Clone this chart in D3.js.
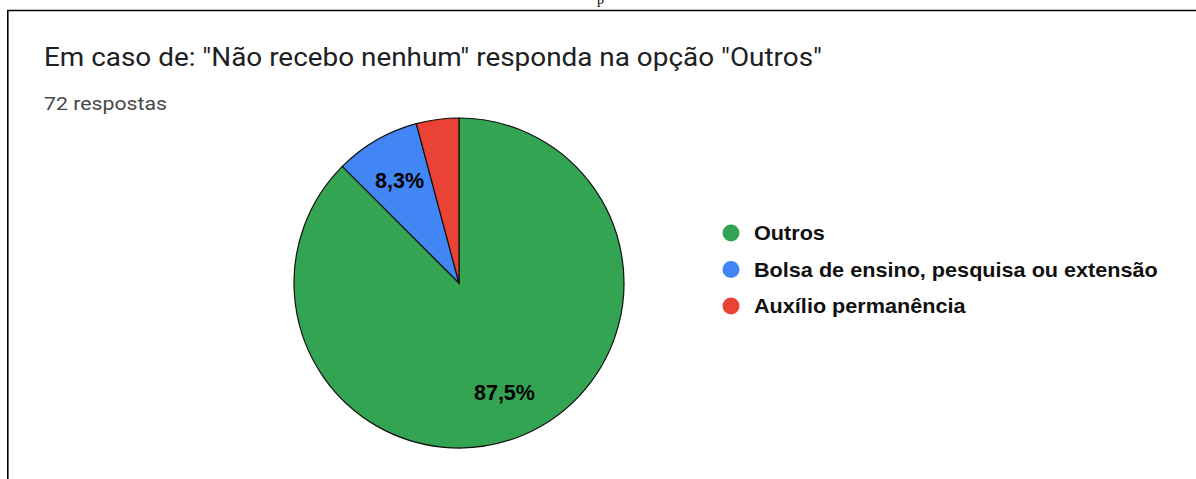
<!DOCTYPE html>
<html>
<head>
<meta charset="utf-8">
<script src="https://cdn.jsdelivr.net/npm/d3@7/dist/d3.min.js"></script>
<style>
  html, body { margin: 0; padding: 0; background: #fff; }
  svg { display: block; }
</style>
</head>
<body>
<svg id="chart" width="1196" height="479"></svg>
<script>
const categories = ["Outros", "Bolsa de ensino, pesquisa ou extensão", "Auxílio permanência"];
const counts = [63, 6, 3];
const sliceLabels = ["87,5%", "8,3%", ""];
const colors = ["#33a452", "#4285f4", "#ea4335"];
const titleText = "Em caso de: \"Não recebo nenhum\" responda na opção \"Outros\"";
const subtitleText = "72 respostas";

const svg = d3.select("#chart");

// frame
svg.append("line").attr("x1", 7).attr("x2", 1196).attr("y1", 10.5).attr("y2", 10.5)
  .attr("stroke", "#000").attr("stroke-width", 1.6);
svg.append("line").attr("x1", 7.8).attr("x2", 7.8).attr("y1", 10).attr("y2", 479)
  .attr("stroke", "#000").attr("stroke-width", 1.6);
svg.append("text").attr("x", 597).attr("y", 4).attr("font-family", "Liberation Serif")
  .attr("font-size", 14).attr("fill", "#000").text("p");

svg.append("text").attr("x", 44).attr("y", 66)
  .attr("font-family", "Roboto").attr("font-size", 26).attr("fill", "#202124")
  .attr("textLength", 778).attr("lengthAdjust", "spacingAndGlyphs")
  .text(titleText);
svg.append("text").attr("x", 44).attr("y", 110)
  .attr("font-family", "Roboto").attr("font-size", 19).attr("fill", "#474747")
  .attr("textLength", 123).attr("lengthAdjust", "spacingAndGlyphs")
  .text(subtitleText);

const cx = 459, cy = 283, r = 165;
const pie = d3.pie().sort(null).value(d => d)(counts);
const arc = d3.arc().innerRadius(0).outerRadius(r);
const labelArc = d3.arc().innerRadius(r * 0.72).outerRadius(r * 0.72);

const g = svg.append("g").attr("transform", `translate(${cx},${cy})`);
g.selectAll("path").data(pie).join("path")
  .attr("d", arc)
  .attr("fill", (d, i) => colors[i])
  .attr("stroke", "#111").attr("stroke-width", 1.2);

g.selectAll("text.lbl").data(pie).join("text")
  .attr("class", "lbl")
  .attr("transform", d => `translate(${labelArc.centroid(d)})`)
  .attr("text-anchor", "middle").attr("dy", "0.35em")
  .attr("font-family", "Liberation Sans").attr("font-weight", "bold")
  .attr("font-size", 21.5).attr("fill", "#000")
  .text((d, i) => sliceLabels[i]);

const legend = svg.append("g").attr("transform", "translate(731,233)");
const items = legend.selectAll("g").data(categories).join("g")
  .attr("transform", (d, i) => `translate(0,${i * 36.5})`);
items.append("circle").attr("r", 8.5).attr("fill", (d, i) => colors[i]);
const legTexts = items.append("text").attr("x", 23).attr("dy", "0.36em")
  .attr("font-family", "Liberation Sans").attr("font-weight", "bold")
  .attr("font-size", 20.5).attr("fill", "#111")
  .text(d => d);
// stretch legend labels horizontally to match the reference's wider glyphs
const stretch = 1.055;
legTexts.each(function() {
  const w = this.getComputedTextLength();
  d3.select(this).attr("textLength", w * stretch).attr("lengthAdjust", "spacingAndGlyphs");
});
</script>
</body>
</html>
